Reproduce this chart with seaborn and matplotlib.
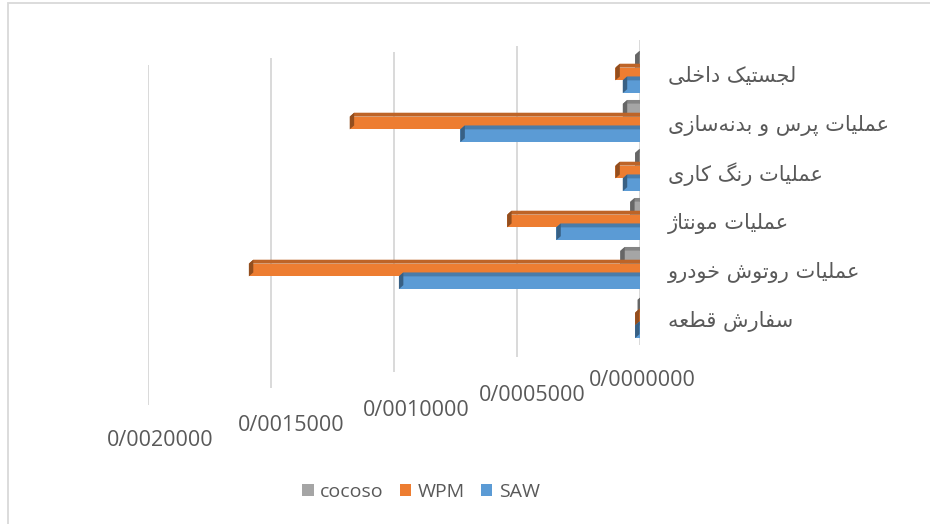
import numpy as np
import pandas as pd
import matplotlib
matplotlib.use("Agg")
import matplotlib.pyplot as plt
import seaborn as sns
from matplotlib.patches import Rectangle, Polygon
from matplotlib.colors import to_rgb
from matplotlib.transforms import ScaledTranslation

# ---------------- data ----------------
categories = ["لجستیک داخلی", "عملیات پرس و بدنه‌سازی", "عملیات رنگ کاری",
              "عملیات مونتاژ", "عملیات روتوش خودرو", "سفارش قطعه"]
series = ["cocoso", "WPM", "SAW"]
cocoso = [0.00002, 0.00007, 0.00002, 0.00004, 0.00008, 0.00001]
wpm = [0.00010, 0.00118, 0.00010, 0.00054, 0.00159, 0.00002]
saw = [0.00007, 0.00073, 0.00007, 0.00034, 0.00098, 0.00002]
tick_values = [0.0, 0.0005, 0.0010, 0.0015, 0.0020]
tick_labels = ["0/0000000", "0/0005000", "0/0010000", "0/0015000", "0/0020000"]
colors = ["#A5A5A5", "#ED7D31", "#5B9BD5"]

# ---------- minimal Persian shaping (matplotlib has no text shaping) ----------
FORMS = {  # isolated, final, initial, medial
    "ا": ("\uFE8D", "\uFE8E", None, None),
    "ب": ("\uFE8F", "\uFE90", "\uFE91", "\uFE92"),
    "ت": ("\uFE95", "\uFE96", "\uFE97", "\uFE98"),
    "ج": ("\uFE9D", "\uFE9E", "\uFE9F", "\uFEA0"),
    "خ": ("\uFEA5", "\uFEA6", "\uFEA7", "\uFEA8"),
    "د": ("\uFEA9", "\uFEAA", None, None),
    "ر": ("\uFEAD", "\uFEAE", None, None),
    "ز": ("\uFEAF", "\uFEB0", None, None),
    "س": ("\uFEB1", "\uFEB2", "\uFEB3", "\uFEB4"),
    "ش": ("\uFEB5", "\uFEB6", "\uFEB7", "\uFEB8"),
    "ط": ("\uFEC1", "\uFEC2", "\uFEC3", "\uFEC4"),
    "ع": ("\uFEC9", "\uFECA", "\uFECB", "\uFECC"),
    "ف": ("\uFED1", "\uFED2", "\uFED3", "\uFED4"),
    "ق": ("\uFED5", "\uFED6", "\uFED7", "\uFED8"),
    "ل": ("\uFEDD", "\uFEDE", "\uFEDF", "\uFEE0"),
    "م": ("\uFEE1", "\uFEE2", "\uFEE3", "\uFEE4"),
    "ن": ("\uFEE5", "\uFEE6", "\uFEE7", "\uFEE8"),
    "ه": ("\uFEE9", "\uFEEA", "\uFEEB", "\uFEEC"),
    "و": ("\uFEED", "\uFEEE", None, None),
    "پ": ("\uFB56", "\uFB57", "\uFB58", "\uFB59"),
    "ژ": ("\uFB8A", "\uFB8B", None, None),
    "ک": ("\uFB8E", "\uFB8F", "\uFB90", "\uFB91"),
    "گ": ("\uFB92", "\uFB93", "\uFB94", "\uFB95"),
    "ی": ("\uFBFC", "\uFBFD", "\uFBFE", "\uFBFF"),
}


def shape(text):
    def dual(c):
        return c in FORMS and FORMS[c][2] is not None
    out = []
    for i, c in enumerate(text):
        if c not in FORMS:
            out.append(c)
            continue
        prev = text[i - 1] if i > 0 else None
        nxt = text[i + 1] if i + 1 < len(text) else None
        cp = prev is not None and dual(prev)
        cn = nxt is not None and nxt in FORMS and dual(c)
        iso, fin, ini, med = FORMS[c]
        out.append(med if (cp and cn) else fin if cp else ini if cn else iso)
    s = "".join(ch for ch in out if ch != "\u200c")
    return s[::-1]


# ---------------- figure ----------------
sns.set_theme(style="white")
plt.rcParams["font.family"] = ["Open Sans", "DejaVu Sans"]
text_color = "#595959"
grid_color = "#D9D9D9"

df = pd.DataFrame({
    "category": categories * 3,
    "series": sum([[s] * len(categories) for s in series], []),
    "value": cocoso + wpm + saw,
})

W, H = 930, 524
ax_left, ax_right, ax_top, ax_bottom = 148, 640, 40, 405
fig = plt.figure(figsize=(W / 100, H / 100), dpi=100)
ax = fig.add_axes([ax_left / W, 1 - ax_bottom / H, (ax_right - ax_left) / W,
                   (ax_bottom - ax_top) / H])

sns.barplot(data=df, y="category", x="value", hue="series", order=categories,
            hue_order=series, palette=colors, orient="h", width=0.78,
            ax=ax, legend=False, saturation=1, linewidth=0)

# pseudo 3D: darker top face and end cap derived from each bar
depth_y = 0.08
depth_x = 0.000018
for patch in list(ax.patches):
    x0, y0 = patch.get_x(), patch.get_y()
    w, h = patch.get_width(), patch.get_height()
    if w == 0:
        continue
    base = np.array(to_rgb(patch.get_facecolor()))
    dark = base * 0.80
    darker = base * 0.62
    top = Polygon([(x0 + w, y0), (x0, y0), (x0 - depth_x, y0 - depth_y),
                   (x0 + w - depth_x, y0 - depth_y)], closed=True,
                  facecolor=dark, edgecolor="none", zorder=patch.get_zorder())
    cap = Polygon([(x0 + w, y0), (x0 + w, y0 + h), (x0 + w - depth_x, y0 + h - depth_y),
                   (x0 + w - depth_x, y0 - depth_y)], closed=True,
                  facecolor=darker, edgecolor="none", zorder=patch.get_zorder())
    ax.add_patch(top)
    ax.add_patch(cap)

ax.set_xlim(0.0020, 0.0)
# category rows: first at y=74px, 49px apart
row_px = 49.0
first_px = 74.0
y_top = -(first_px - ax_top) / row_px
y_bot = y_top + (ax_bottom - ax_top) / row_px
ax.set_ylim(y_bot, y_top)

# perspective-like gridlines: top and bottom ends move with the value
grid_top_px = [40, 46, 52, 58, 65]
grid_bot_px = [345, 357, 372, 388, 405]
ax.vlines(tick_values,
          [1 - (b - ax_top) / (ax_bottom - ax_top) for b in grid_bot_px],
          [1 - (t - ax_top) / (ax_bottom - ax_top) for t in grid_top_px],
          transform=ax.get_xaxis_transform(), colors=grid_color,
          linewidth=1.4, zorder=0)

for sp in ax.spines.values():
    sp.set_visible(False)

ax.set_xticks(tick_values)
ax.set_xticklabels(tick_labels)
ax.tick_params(axis="x", length=0, labelsize=15.5, labelcolor=text_color, pad=18)
# staggered tick labels like the receding floor of the original
label_dx = [2, 15, 22, 20, 12]
label_dy = [60, 45, 30, 15, 0]
for lab, dx, dy in zip(ax.get_xticklabels(), label_dx, label_dy):
    lab.set_transform(lab.get_transform() + ScaledTranslation(dx / 100, dy / 100,
                                                              fig.dpi_scale_trans))

ax.yaxis.tick_right()
ax.set_yticks(range(len(categories)))
ax.set_yticklabels([shape(c) for c in categories], family=["DejaVu Sans"],
                   fontsize=15, color=text_color, ha="left")
ax.tick_params(axis="y", length=0, pad=20)
ax.set_xlabel("")
ax.set_ylabel("")

handles = [Rectangle((0, 0), 1, 1, facecolor=c, edgecolor="none") for c in colors]
fig.legend(handles, series, loc="center", bbox_to_anchor=(421 / W, 1 - 492 / H),
           ncol=3, frameon=False, fontsize=14, labelcolor=text_color,
           handlelength=0.6, handleheight=0.6, handletextpad=0.35, columnspacing=0.8)

fig.patches.append(Rectangle((8 / W, -0.05), 1.1, 1 - 3 / H + 0.05,
                             transform=fig.transFigure, fill=False,
                             edgecolor=grid_color, linewidth=1.3))

fig.savefig("out.png", dpi=100)
